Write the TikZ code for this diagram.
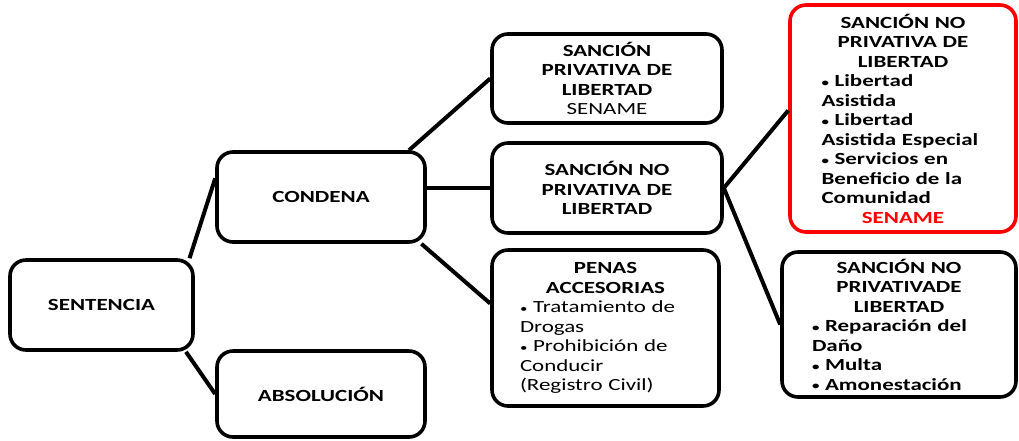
\documentclass[tikz,border=0pt]{standalone}
\usepackage{fontspec}
\setmainfont{Carlito}[FakeStretch=1.35]
\usetikzlibrary{calc}
\newcommand{\smbul}{{\fontsize{11}{0}\selectfont\raisebox{0.5pt}{•}}~}
\begin{document}
\begin{tikzpicture}[x=1pt,y=-1pt,
  box/.style={draw=black, line width=3.6pt, rounded corners=16pt, fill=white,
    inner sep=0pt, font=\fontsize{17}{19.5}\selectfont},
  simple/.style={box, align=center, font=\fontsize{17}{19.5}\selectfont\bfseries},
  link/.style={line width=4pt, draw=black}]
\useasboundingbox (0,0) rectangle (1019,440);

\node[simple, minimum width=183pt, minimum height=90pt] (sent) at (101.5,305) {SENTENCIA};
\node[simple, minimum width=208pt, minimum height=90pt] (cond) at (321,197) {CONDENA};
\node[simple, minimum width=208pt, minimum height=86pt] (abs) at (321,394) {ABSOLUCIÓN};

\node[box, minimum width=230pt, minimum height=89pt, text width=200pt] (priv) at (607,78.5)
  {{\centering\bfseries SANCIÓN\\PRIVATIVA DE\\LIBERTAD\par}{\centering SENAME\par}};
\node[box, minimum width=230pt, minimum height=90pt, text width=200pt] (mid) at (607,188)
  {{\centering\bfseries SANCIÓN NO\\PRIVATIVA DE\\LIBERTAD\par}};
\node[box, minimum width=227pt, minimum height=156pt, text width=171pt] (penas) at (605.5,328)
  {{\centering\bfseries PENAS\\ACCESORIAS\par}%
   {\raggedright \smbul Tratamiento de\\Drogas\\\smbul Prohibición de\\Conducir\\(Registro Civil)\par}};
\node[box, draw=red, minimum width=226pt, minimum height=227pt, text width=163pt] (red) at (903,118.5)
  {{\centering\bfseries SANCIÓN NO\\PRIVATIVA DE\\LIBERTAD\par}%
   {\raggedright\bfseries \smbul Libertad\\Asistida\\\smbul Libertad\\Asistida Especial\\\smbul Servicios en\\Beneficio de la\\Comunidad\par}%
   {\centering\bfseries\color{red} SENAME\par}};
\node[box, minimum width=234pt, minimum height=145pt, text width=174pt] (br) at (899,324.5)
  {{\centering\bfseries SANCIÓN NO\\PRIVATIVADE\\LIBERTAD\par}%
   {\raggedright\bfseries \smbul Reparación del\\Daño\\\smbul Multa\\\smbul Amonestación\par}};

\draw[link] (sent.28) -- (cond.170);
\draw[link] (sent.-29) -- (abs.west);
\draw[link] (cond.28) -- (priv.west);
\draw[link] (mid.west -| cond.east) -- (mid.west);
\draw[link] (cond.-25) -- (penas.168);
\draw[link] (mid.east) -- (red.176);
\draw[link] (mid.east) -- (br.west);
\end{tikzpicture}
\end{document}
